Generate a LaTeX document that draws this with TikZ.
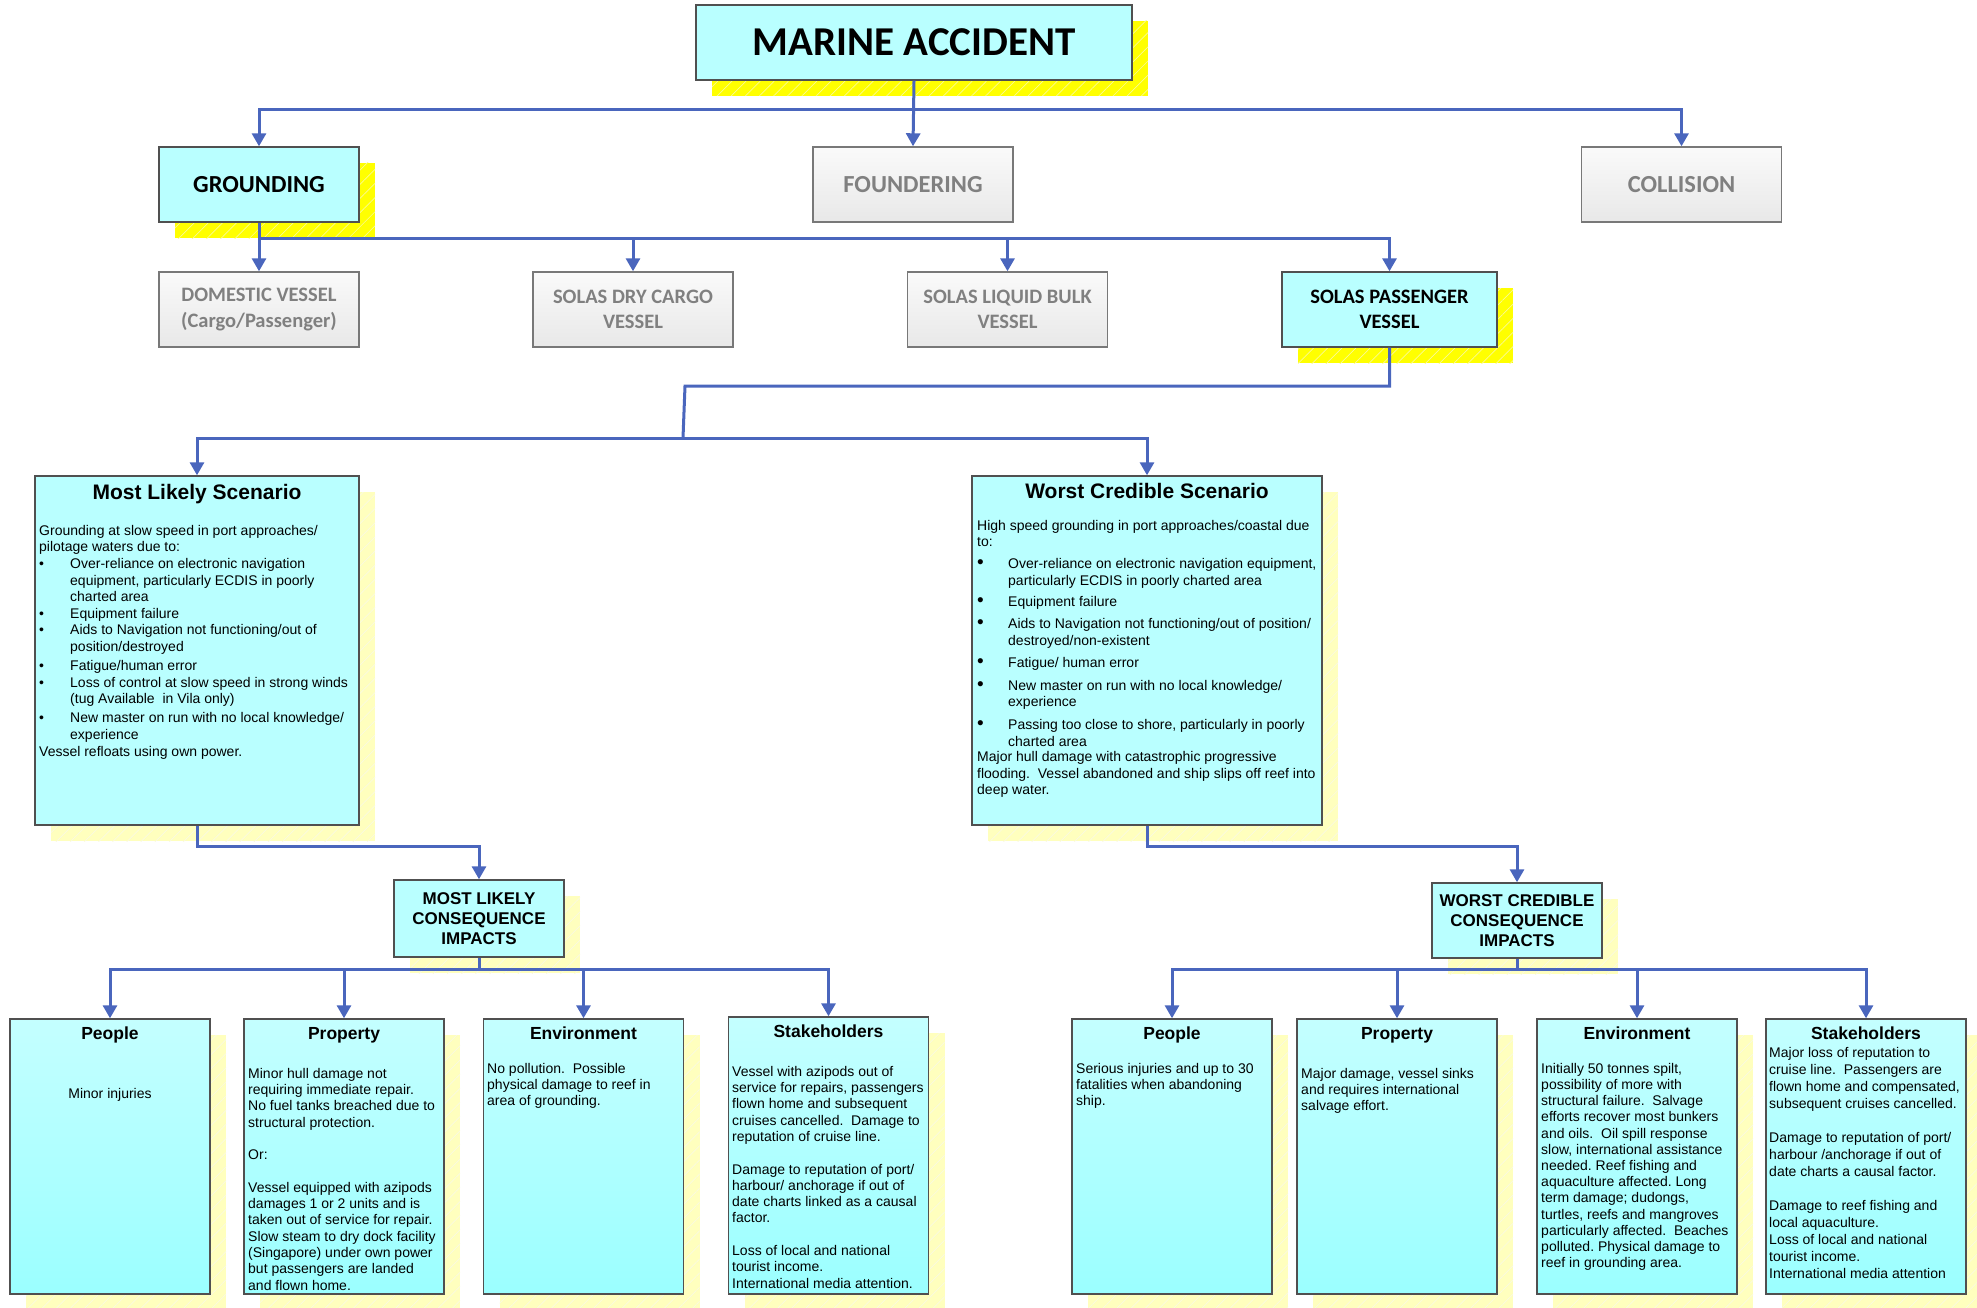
\documentclass[tikz,border=0pt]{standalone}
\usepackage{fontspec}
\setmainfont{Liberation Sans}
\newfontfamily\calib{Carlito}
\usetikzlibrary{arrows.meta,shadows,patterns.meta}
\AtBeginDocument{\frenchspacing}
\definecolor{conn}{RGB}{74,102,189}
\definecolor{boxcyan}{RGB}{185,255,255}
\definecolor{cyantop}{RGB}{196,255,255}
\definecolor{cyanbot}{RGB}{155,255,255}
\definecolor{shY}{RGB}{255,255,0}
\definecolor{hatchY}{RGB}{250,250,150}
\definecolor{shP}{RGB}{255,255,190}
\definecolor{hatchP}{RGB}{250,250,225}
\definecolor{bordr}{RGB}{80,80,80}
\definecolor{graytxt}{RGB}{128,128,128}
\definecolor{graybd}{RGB}{120,120,120}
\newcommand{\mbul}{\makebox[31pt][l]{\textbullet}}
\newcommand{\myind}{\hspace*{31pt}}
\newcommand{\wbul}{\makebox[31pt][l]{{\fontsize{19}{19}\selectfont\textbullet}}}
\tikzset{
  arr/.style={draw=conn, line width=3pt, -{Triangle[width=14pt,length=13pt]}},
  ln/.style={draw=conn, line width=3pt},
  shadowY/.style={general shadow={fill=shY, shadow xshift=16pt, shadow yshift=-16pt},
    general shadow={pattern={Lines[angle=45,distance=10pt,line width=0.7pt]}, pattern color=hatchY, shadow xshift=16pt, shadow yshift=-16pt}},
  shadowP/.style={general shadow={fill=shP, shadow xshift=16pt, shadow yshift=-16pt},
    general shadow={pattern={Lines[angle=45,distance=10pt,line width=0.7pt]}, pattern color=hatchP, shadow xshift=16pt, shadow yshift=-16pt}},
  topbox/.style={draw=bordr, line width=1.4pt, fill=boxcyan, inner sep=0pt, align=center},
  graybox/.style={draw=graybd, line width=1.4pt, top color=white!98!black, bottom color=white!91!black, inner sep=0pt, align=center, text=graytxt},
  scenbox/.style={draw=bordr, line width=1.4pt, fill=boxcyan, inner sep=0pt, shadowP},
  botbox/.style={draw=bordr, line width=1.4pt, top color=cyantop, bottom color=cyanbot, minimum width=200pt, minimum height=275pt, inner sep=0pt, shadowP},
  bigtitle/.style={font=\calib\bfseries\fontsize{41}{41}\selectfont},
  midtitle/.style={font=\calib\bfseries\fontsize{24.5}{25}\selectfont},
  smalltitle/.style={font=\calib\bfseries\fontsize{20.5}{25.5}\selectfont},
  scenhead/.style={anchor=base, inner sep=0pt, font=\bfseries\fontsize{21}{21}\selectfont},
  bhead/.style={anchor=base, inner sep=0pt, font=\bfseries\fontsize{17.5}{18}\selectfont},
  conshead/.style={font=\bfseries\fontsize{17}{20}\selectfont},
  txtA/.style={anchor=north west, inner sep=0pt, align=left, font=\fontsize{14}{16.6}\selectfont},
  txtW/.style={anchor=north west, inner sep=0pt, align=left, font=\fontsize{14}{16.5}\selectfont},
  txtB/.style={anchor=north west, inner sep=0pt, align=left, font=\fontsize{14}{16.3}\selectfont},
  txtE/.style={anchor=north west, inner sep=0pt, align=left, font=\fontsize{14}{16.2}\selectfont},
  txtS/.style={anchor=north west, inner sep=0pt, align=left, font=\fontsize{14}{17}\selectfont},
}
\begin{document}
\begin{tikzpicture}[x=1pt,y=-1pt]
\useasboundingbox (0,0) rectangle (1977,1308);

% --- level 0/1/2 boxes
\node[topbox, shadowY, bigtitle, minimum width=436pt, minimum height=75pt] (marine) at (914,42.5) {MARINE ACCIDENT};
\node[topbox, shadowY, midtitle, minimum width=200pt, minimum height=75pt] (ground) at (259,184.5) {GROUNDING};
\node[graybox, midtitle, minimum width=200pt, minimum height=75pt] (found) at (913,184.5) {FOUNDERING};
\node[graybox, midtitle, minimum width=200pt, minimum height=75pt] (coll) at (1681.5,184.5) {COLLISION};

\node[graybox, smalltitle, minimum width=200pt, minimum height=75pt] (dom) at (259,309.5) {DOMESTIC VESSEL\\(Cargo/Passenger)};
\node[graybox, smalltitle, minimum width=200pt, minimum height=75pt] (dry) at (633,309.5) {SOLAS DRY CARGO\\VESSEL};
\node[graybox, smalltitle, minimum width=200pt, minimum height=75pt] (liq) at (1007.5,309.5) {SOLAS LIQUID BULK\\VESSEL};
\node[topbox, shadowY, smalltitle, minimum width=215pt, minimum height=75pt] (pass) at (1389.5,309.5) {SOLAS PASSENGER\\VESSEL};

% --- scenario boxes
\node[scenbox, minimum width=324pt, minimum height=349pt] (most) at (197,650.5) {};
\node[scenbox, minimum width=350pt, minimum height=349pt] (worst) at (1147,650.5) {};
\node[scenhead] (mostH) at (197,499) {Most Likely Scenario};
\node[scenhead] (worstH) at (1147,498) {Worst Credible Scenario};

\node[txtA] (mostT) at (39,523.4) {\strut Grounding at slow speed in port approaches/\\
pilotage waters due to:\\
\mbul Over-reliance on electronic navigation\\
\myind equipment, particularly ECDIS in poorly\\
\myind charted area\\
\mbul Equipment failure\\
\mbul Aids to Navigation not functioning/out of\\
\myind position/destroyed\\[2.5pt]
\mbul Fatigue/human error\\
\mbul Loss of control at slow speed in strong winds\\
\myind (tug Available\ \ in Vila only)\\[2.5pt]
\mbul New master on run with no local knowledge/\\
\myind experience\\
Vessel refloats using own power.};

\node[txtW] (worstT) at (977,518.45) {\strut High speed grounding in port approaches/coastal due\\
to:\\[5.5pt]
\wbul Over-reliance on electronic navigation equipment,\\
\myind particularly ECDIS in poorly charted area\\[5pt]
\wbul Equipment failure\\[5.5pt]
\wbul Aids to Navigation not functioning/out of position/\\
\myind destroyed/non-existent\\[5.5pt]
\wbul Fatigue/ human error\\[6.5pt]
\wbul New master on run with no local knowledge/\\
\myind experience\\[6.5pt]
\wbul Passing too close to shore, particularly in poorly\\
\myind charted area\\[-1pt]
Major hull damage with catastrophic progressive\\
flooding.\ \ Vessel abandoned and ship slips off reef into\\
deep water.};

% --- consequence boxes
\node[topbox, shadowP, conshead, minimum width=170pt, minimum height=77pt] (mlc) at (479,918.5) {MOST LIKELY\\CONSEQUENCE\\IMPACTS};
\node[topbox, shadowP, conshead, minimum width=170pt, minimum height=75pt] (wcc) at (1517,920.5) {WORST CREDIBLE\\CONSEQUENCE\\IMPACTS};

% --- bottom boxes
\node[botbox] (pL) at (110,1156.5) {};
\node[botbox] (prL) at (344,1156.5) {};
\node[botbox] (eL) at (583.5,1156.5) {};
\node[botbox, minimum height=277pt] (sL) at (828.5,1155.5) {};
\node[botbox] (pR) at (1172,1156.5) {};
\node[botbox] (prR) at (1397,1156.5) {};
\node[botbox] (eR) at (1637,1156.5) {};
\node[botbox] (sR) at (1866,1156.5) {};

\node[bhead] (pLh) at (110,1039) {People};
\node[bhead] (prLh) at (344,1039) {Property};
\node[bhead] (eLh) at (583.5,1039) {Environment};
\node[bhead] (sLh) at (828.5,1037) {Stakeholders};
\node[bhead] (pRh) at (1172,1039) {People};
\node[bhead] (prRh) at (1397,1039) {Property};
\node[bhead] (eRh) at (1637,1039) {Environment};
\node[bhead] (sRh) at (1866,1039) {Stakeholders};

\node[anchor=base, inner sep=0pt, font=\fontsize{14}{16.3}\selectfont] (pLt) at (110,1098) {Minor injuries};

\node[txtB] (prLt) at (248,1066.6) {\strut Minor hull damage not\\
requiring immediate repair.\\
No fuel tanks breached due to\\
structural protection.\\[16.3pt]
Or:\\[16.3pt]
Vessel equipped with azipods\\
damages 1 or 2 units and is\\
taken out of service for repair.\\
Slow steam to dry dock facility\\
(Singapore) under own power\\
but passengers are landed\\
and flown home.};

\node[txtB] (eLt) at (487,1061.6) {\strut No pollution.\ \ Possible\\
physical damage to reef in\\
area of grounding.};

\node[txtB] (sLt) at (732,1064.6) {\strut Vessel with azipods out of\\
service for repairs, passengers\\
flown home and subsequent\\
cruises cancelled.\ \ Damage to\\
reputation of cruise line.\\[16.3pt]
Damage to reputation of port/\\
harbour/ anchorage if out of\\
date charts linked as a causal\\
factor.\\[16.3pt]
Loss of local and national\\
tourist income.\\
International media attention.};

\node[txtB] (pRt) at (1076,1061.6) {\strut Serious injuries and up to 30\\
fatalities when abandoning\\
ship.};

\node[txtB] (prRt) at (1301,1066.6) {\strut Major damage, vessel sinks\\
and requires international\\
salvage effort.};

\node[txtE] (eRt) at (1541,1061.7) {\strut Initially 50 tonnes spilt,\\
possibility of more with\\
structural failure.\ \ Salvage\\
efforts recover most bunkers\\
and oils.\ \ Oil spill response\\
slow, international assistance\\
needed. Reef fishing and\\
aquaculture affected. Long\\
term damage; dudongs,\\
turtles, reefs and mangroves\\
particularly affected.\ \ Beaches\\
polluted. Physical damage to\\
reef in grounding area.};

\node[txtS] (sRt) at (1769,1045.1) {\strut Major loss of reputation to\\
cruise line.\ \ Passengers are\\
flown home and compensated,\\
subsequent cruises cancelled.\\[17pt]
Damage to reputation of port/\\
harbour /anchorage if out of\\
date charts a causal factor.\\[17pt]
Damage to reef fishing and\\
local aquaculture.\\
Loss of local and national\\
tourist income.\\
International media attention};

% --- connectors
\coordinate (h1) at (914,110);
\draw[arr] (marine.south) -- (found.north);
\draw[arr] (marine.south |- h1) -| (ground.north);
\draw[arr] (marine.south |- h1) -| (coll.north);

\coordinate (h2) at (259,238);
\draw[arr] (ground.south) -- (dom.north);
\draw[arr] (h2) -| (dry.north);
\draw[arr] (h2) -| (liq.north);
\draw[arr] (h2) -| (pass.north);

\coordinate (j1) at (685,386);
\coordinate (j2) at (683,438);
\draw[ln] (pass.south) |- (j1) -- (j2);
\draw[arr] (j2) -| (most.north);
\draw[arr] (j2) -| (worst.north);

\coordinate (k1) at (197,846);
\coordinate (k2) at (1147,846);
\draw[arr] (most.south) -- (k1) -| (mlc.north);
\draw[arr] (worst.south) -- (k2) -| (wcc.north);

\coordinate (m1) at (479,969);
\coordinate (m2) at (1517,969);
\draw[ln] (mlc.south) -- (m1);
\draw[ln] (wcc.south) -- (m2);
\foreach \t in {pL,prL,eL,sL} \draw[arr] (m1) -| (\t.north);
\foreach \t in {pR,prR,eR,sR} \draw[arr] (m2) -| (\t.north);
\end{tikzpicture}
\end{document}
